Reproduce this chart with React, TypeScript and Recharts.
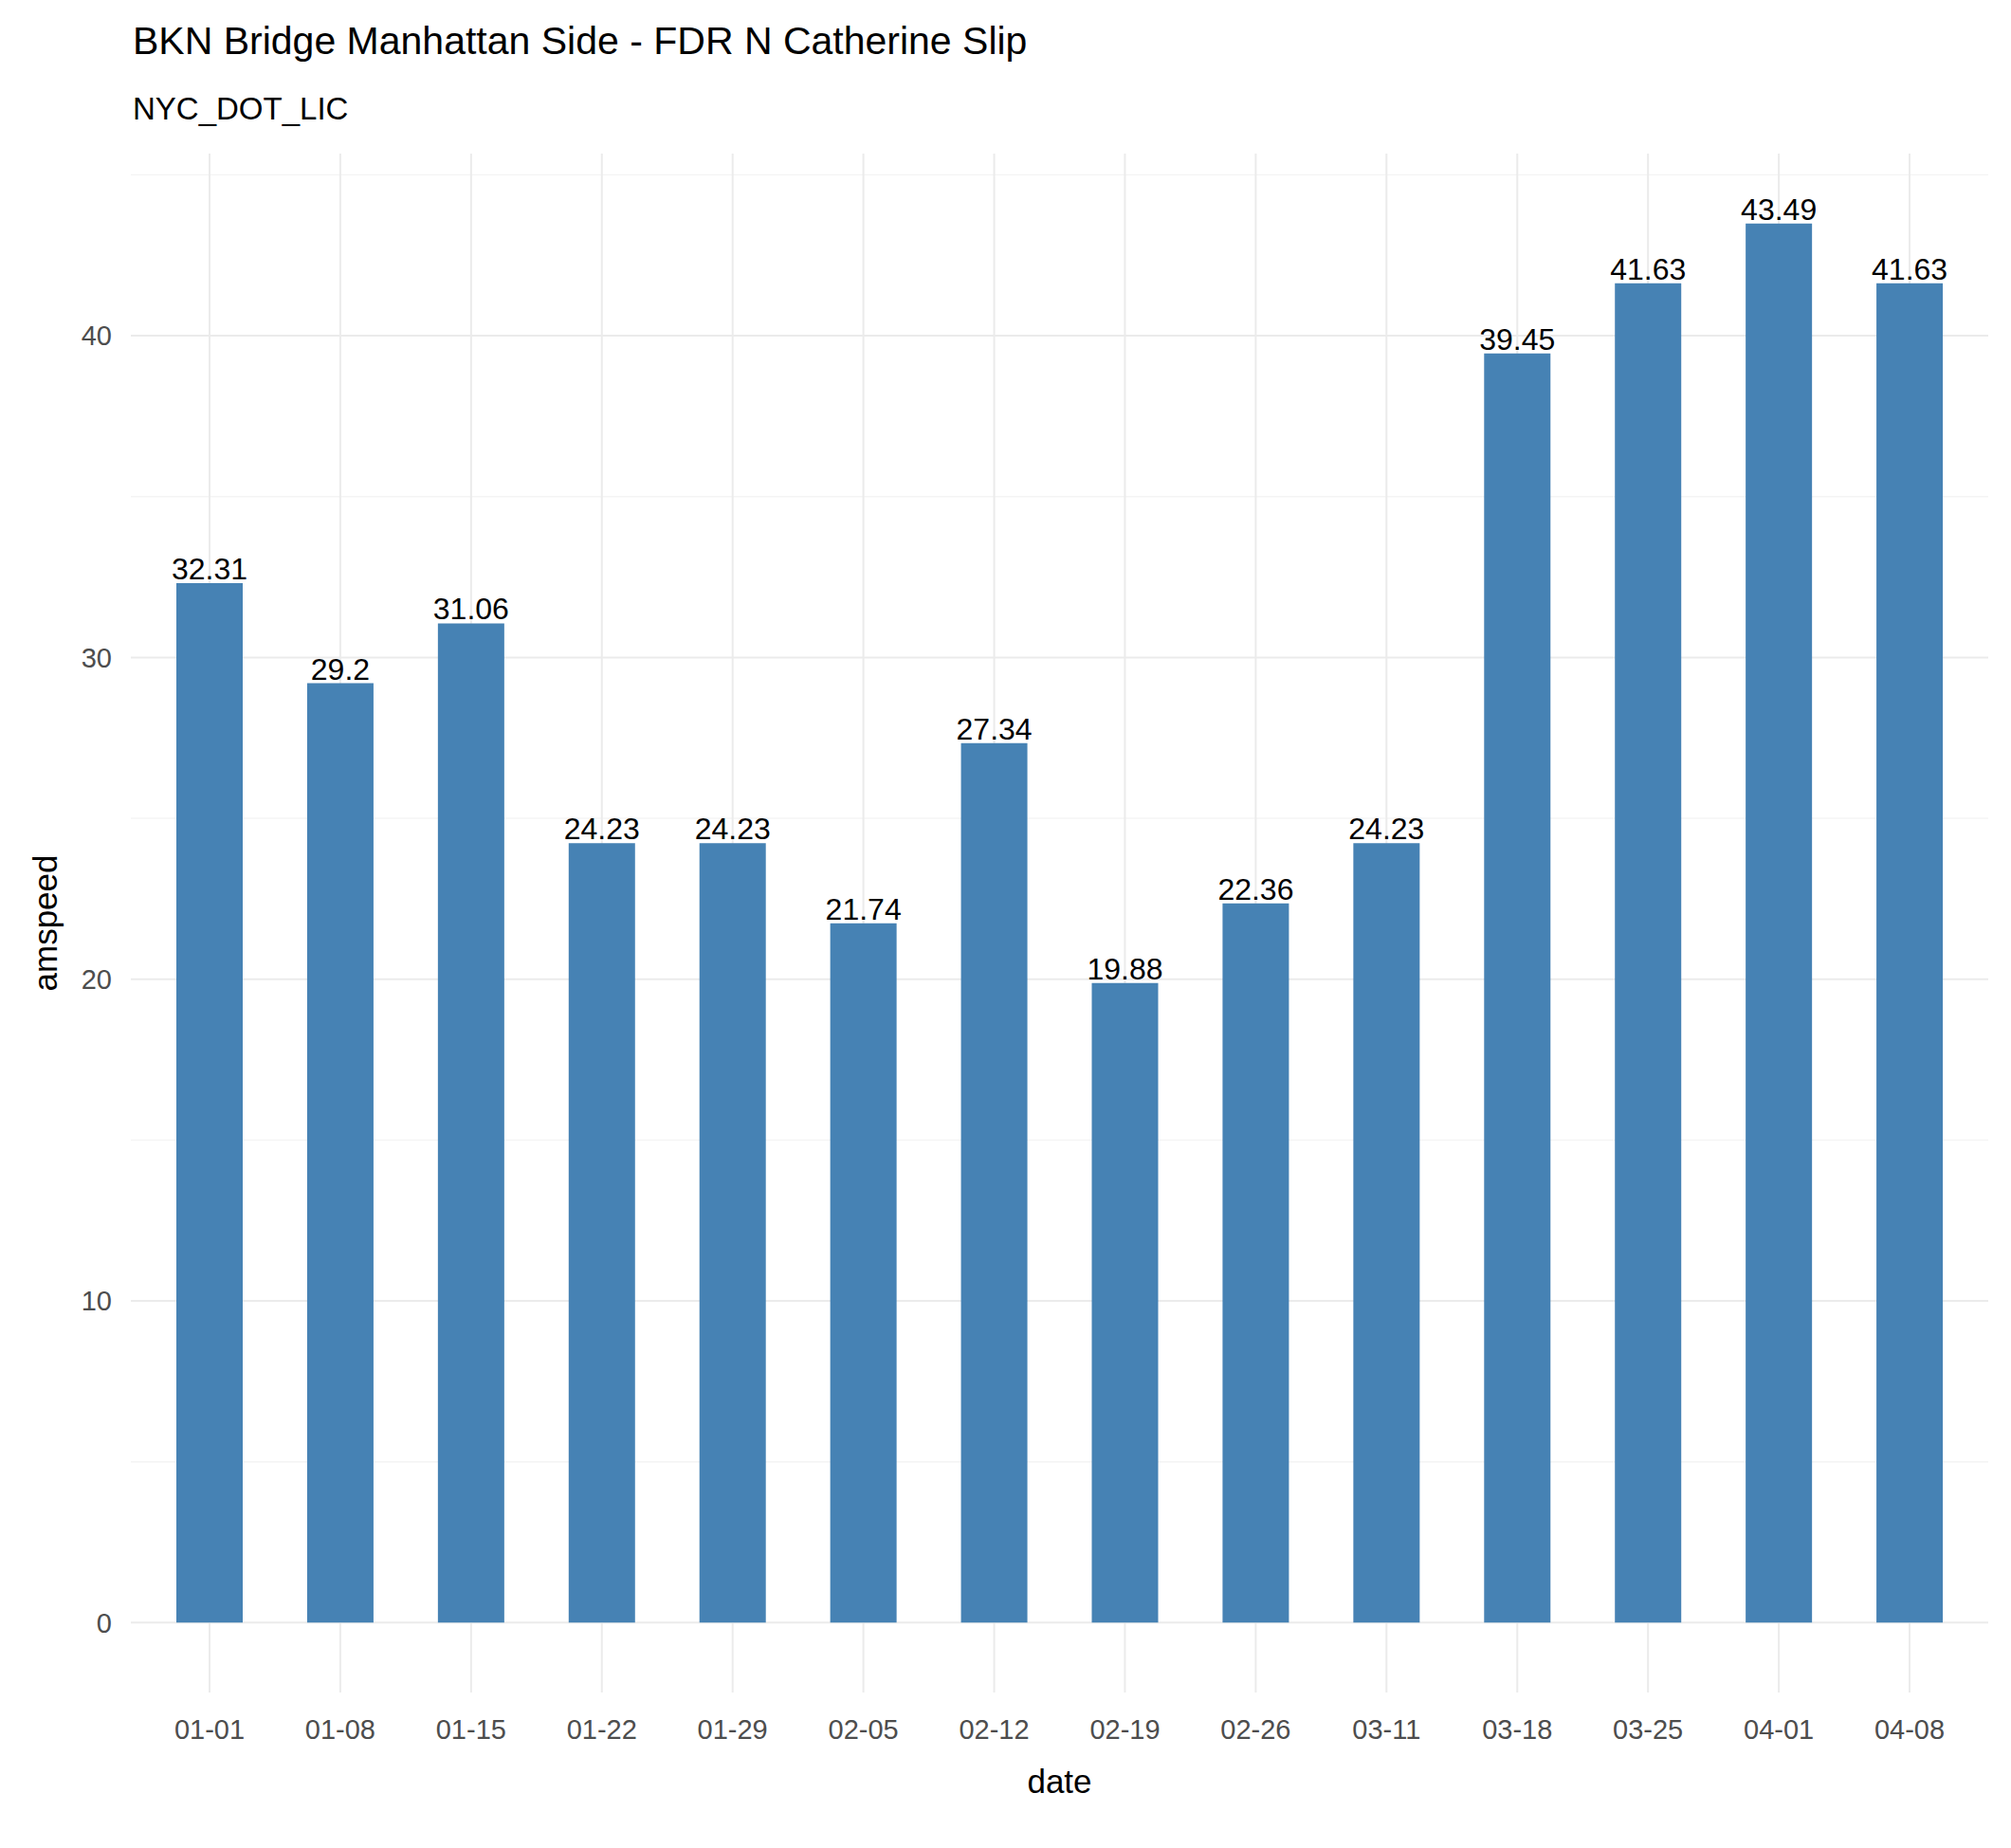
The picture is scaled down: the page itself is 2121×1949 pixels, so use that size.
import React from "react";
import { BarChart, Bar, XAxis, YAxis, CartesianGrid, LabelList } from "recharts";

const dates = ["01-01", "01-08", "01-15", "01-22", "01-29", "02-05", "02-12", "02-19", "02-26", "03-11", "03-18", "03-25", "04-01", "04-08"];
const amspeed = [32.31, 29.2, 31.06, 24.23, 24.23, 21.74, 27.34, 19.88, 22.36, 24.23, 39.45, 41.63, 43.49, 41.63];
const majorTicks = [0, 10, 20, 30, 40];
const minorTicks = [5, 15, 25, 35, 45];

const data = dates.map((d, i) => ({ date: d, amspeed: amspeed[i] }));
const font = "Arial, 'Liberation Sans', sans-serif";

export default function App() {
  return (
    <div style={{ position: "absolute", left: 0, top: 0, width: 2121, height: 1949, background: "#fff", fontFamily: font }}>
      <div style={{ position: "absolute", left: 140, top: 20, fontSize: 41, color: "#000" }}>
        BKN Bridge Manhattan Side - FDR N Catherine Slip
      </div>
      <div style={{ position: "absolute", left: 140, top: 96, fontSize: 33, color: "#000" }}>NYC_DOT_LIC</div>
      <BarChart
        width={2121}
        height={1949}
        data={data}
        margin={{ top: 162, right: 24, bottom: 134, left: 78 }}
      >
        <CartesianGrid stroke="#f4f4f4" strokeWidth={1.4} vertical={false} horizontalValues={minorTicks} />
        <CartesianGrid stroke="#ebebeb" strokeWidth={2} horizontalValues={majorTicks} syncWithTicks />
        <XAxis
          dataKey="date"
          padding={{ left: 14, right: 14 }}
          tickLine={false}
          axisLine={false}
          tick={{ fontSize: 29, fill: "#4d4d4d", fontFamily: font }}
          tickMargin={22}
          label={{ value: "date", position: "insideBottom", offset: -76, fontSize: 35, fill: "#000", fontFamily: font }}
        />
        <YAxis
          type="number"
          domain={[-2.17, 45.66]}
          ticks={majorTicks}
          width={60}
          tickLine={false}
          axisLine={false}
          tick={{ fontSize: 29, fill: "#4d4d4d", fontFamily: font }}
          tickMargin={14}
          label={{ value: "amspeed", angle: -90, position: "insideLeft", offset: -30, fontSize: 35, fill: "#000", fontFamily: font, style: { textAnchor: "middle" } }}
        />
        <Bar dataKey="amspeed" fill="#4682B4" barSize={70} isAnimationActive={false}>
          <LabelList dataKey="amspeed" position="top" offset={4} fill="#000" fontSize={32} fontFamily={font} />
        </Bar>
      </BarChart>
    </div>
  );
}
